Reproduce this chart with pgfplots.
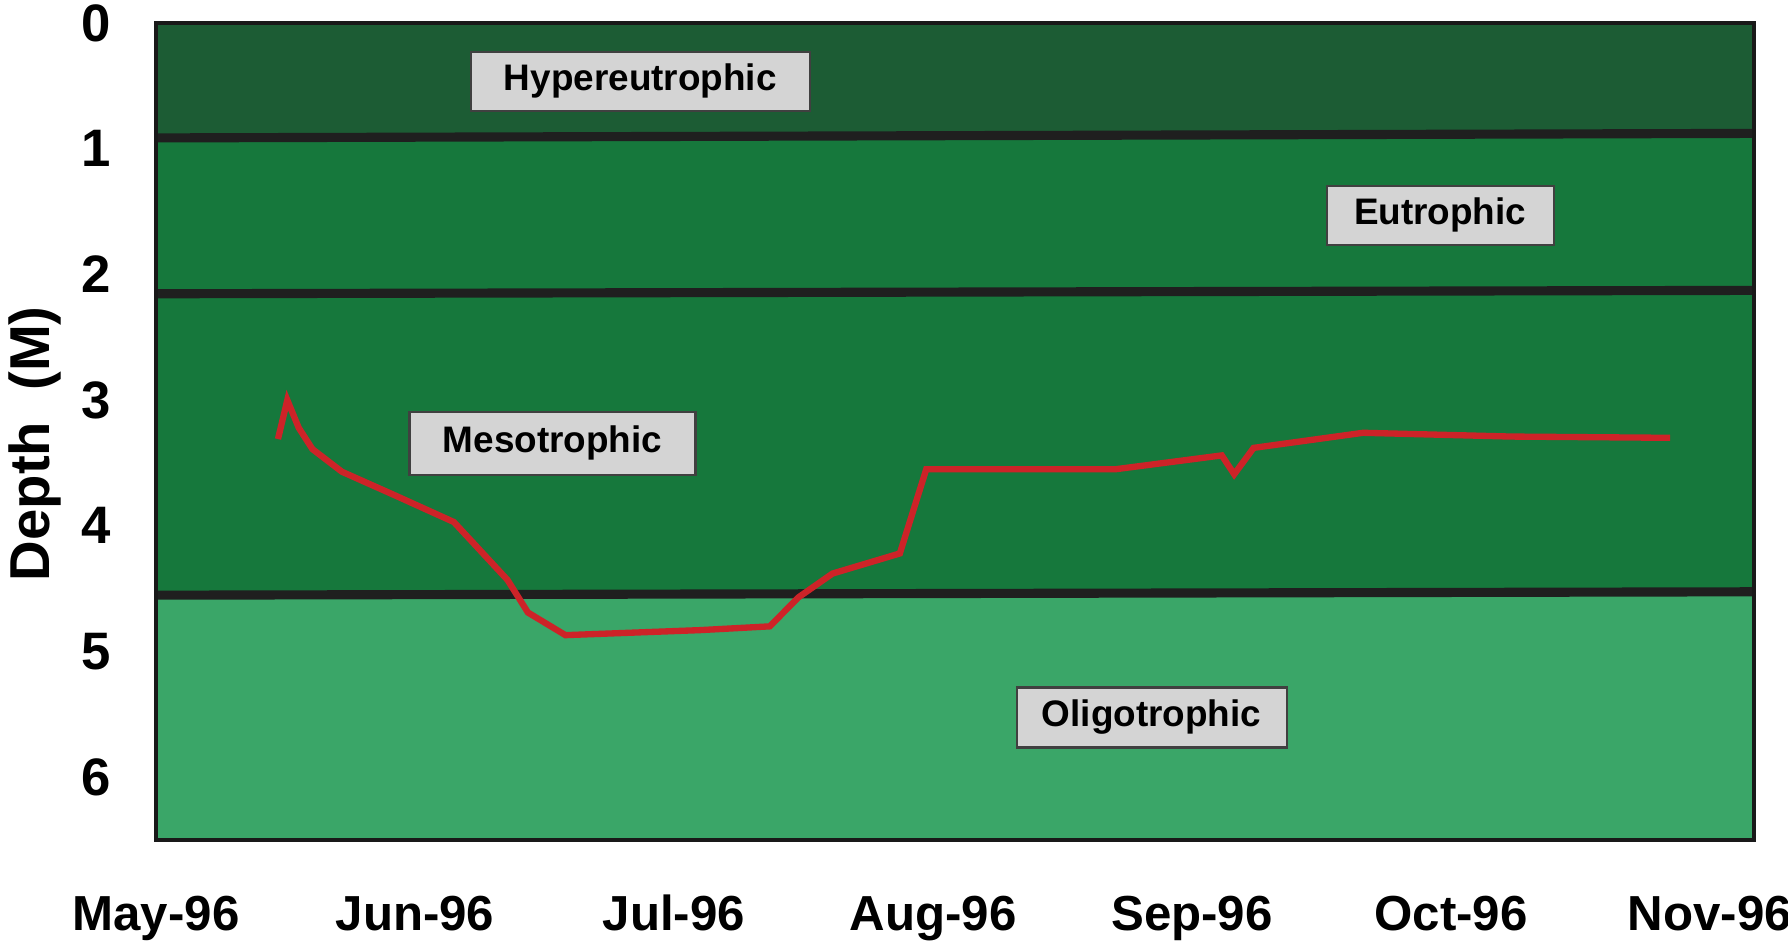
\documentclass[border=0pt]{standalone}
\usepackage{fontspec}
\setmainfont{Liberation Sans}
\usepackage{pgfplots}
\pgfplotsset{compat=1.18}
\definecolor{hyper}{RGB}{28,92,52}
\definecolor{eutro}{RGB}{22,120,60}
\definecolor{oligo}{RGB}{58,166,104}
\definecolor{boxgray}{RGB}{212,212,212}
\definecolor{linered}{RGB}{205,35,40}
\begin{document}
\begin{tikzpicture}
\begin{axis}[
  scale only axis, width=159.8mm, height=81.7mm,
  xmin=0, xmax=6.17, ymin=0, ymax=6.5, y dir=reverse,
  xtick={0,1,2,3,4,5,6},
  xticklabels={May-96,Jun-96,Jul-96,Aug-96,Sep-96,Oct-96,Nov-96},
  ytick={0,1,2,3,4,5,6},
  tick style={draw=none},
  /pgf/number format/assume math mode=true,
  xticklabel style={font=\fontsize{14}{16}\selectfont\bfseries, anchor=base, yshift=-9mm, inner sep=0pt},
  yticklabel style={font=\fontsize{15}{17}\selectfont\bfseries, anchor=east, xshift=-4.4mm, inner sep=0pt},
  ylabel={Depth\ \ (M)},
  ylabel style={font=\fontsize{16}{18}\selectfont\bfseries, at={(axis description cs:-0.076,0.485)}, anchor=center},
  axis line style={line width=1.3pt, black!90},
  axis on top,
]
\addplot[draw=none, fill=hyper] coordinates {(0,0) (6.17,0) (6.17,0.878) (0,0.914)} -- cycle;
\addplot[draw=none, fill=eutro] coordinates {(0,0.914) (6.17,0.878) (6.17,2.127) (0,2.154)} -- cycle;
\addplot[draw=none, fill=eutro] coordinates {(0,2.154) (6.17,2.127) (6.17,4.525) (0,4.552)} -- cycle;
\addplot[draw=none, fill=oligo] coordinates {(0,4.552) (6.17,4.525) (6.17,6.5) (0,6.5)} -- cycle;
\addplot[line width=2.6pt, black!88] coordinates {(0,0.914) (6.17,0.878)};
\addplot[line width=2.6pt, black!88] coordinates {(0,2.154) (6.17,2.127)};
\addplot[line width=2.6pt, black!88] coordinates {(0,4.552) (6.17,4.525)};
\addplot[line width=1.8pt, linered] coordinates {
 (0.471,3.31) (0.507,3.00) (0.551,3.22) (0.604,3.39) (0.718,3.57) (0.925,3.76)
 (1.150,3.97) (1.357,4.43) (1.436,4.69) (1.581,4.87) (2.101,4.83) (2.370,4.80)
 (2.48,4.57) (2.612,4.38) (2.872,4.22) (2.974,3.55) (3.705,3.55) (4.115,3.44)
 (4.163,3.59) (4.238,3.38) (4.661,3.26) (5.233,3.29) (5.846,3.30)};
\node[fill=boxgray, draw=black!75, line width=0.6pt, minimum width=33.9mm, minimum height=5.9mm, inner sep=0pt, font=\fontsize{10.5}{12}\selectfont\bfseries] at (axis cs:1.870,0.462) {Hypereutrophic};
\node[fill=boxgray, draw=black!75, line width=0.6pt, minimum width=22.7mm, minimum height=5.9mm, inner sep=0pt, font=\fontsize{10.5}{12}\selectfont\bfseries] at (axis cs:4.958,1.529) {Eutrophic};
\node[fill=boxgray, draw=black!75, line width=0.6pt, minimum width=28.6mm, minimum height=6.3mm, inner sep=0pt, font=\fontsize{10.5}{12}\selectfont\bfseries] at (axis cs:1.531,3.344) {Mesotrophic};
\node[fill=boxgray, draw=black!75, line width=0.6pt, minimum width=27.0mm, minimum height=6.0mm, inner sep=0pt, font=\fontsize{10.5}{12}\selectfont\bfseries] at (axis cs:3.844,5.525) {Oligotrophic};
\end{axis}
\pgfresetboundingbox
\path (-15.6mm,-10.3mm) rectangle (163.2mm,84.0mm);
\end{tikzpicture}
\end{document}
